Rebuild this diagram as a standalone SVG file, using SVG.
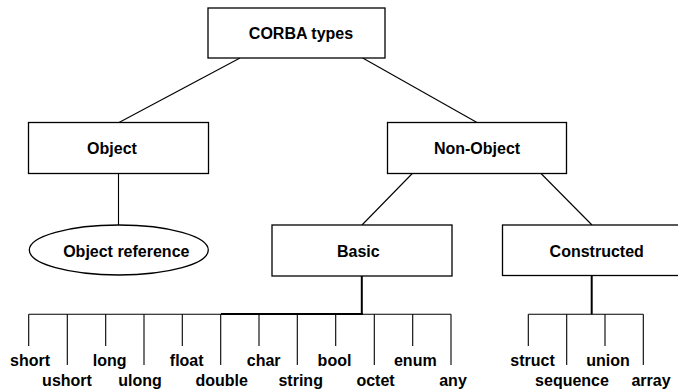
<svg xmlns="http://www.w3.org/2000/svg" width="678" height="389" viewBox="0 0 678 389">
<style>
.box{fill:#fff;stroke:#000;stroke-width:1.3}
.t{font-family:"Liberation Sans",Arial,Helvetica,sans-serif;font-weight:bold;font-size:16px;fill:#000;text-anchor:middle}
.c{stroke:#000;stroke-width:1.1;fill:none}
.k{stroke:#000;stroke-width:2;fill:none}
</style>
<rect width="678" height="389" fill="#fff"/>
<g id="connectors">
<line class="c" x1="240" y1="58" x2="119" y2="122.5"/>
<line class="c" x1="362.7" y1="58" x2="477" y2="122.5"/>
<line class="c" x1="118.5" y1="173.5" x2="118.5" y2="225"/>
<line class="c" x1="412.3" y1="173.5" x2="362" y2="225"/>
<line class="c" x1="541" y1="173.5" x2="592" y2="225"/>
<line class="k" x1="361.8" y1="276" x2="361.8" y2="314.3"/>
<line class="k" x1="591.7" y1="275.5" x2="591.7" y2="314.3"/>
<line class="c" x1="28.7" y1="314.3" x2="451" y2="314.3"/>
<line class="k" x1="221" y1="314" x2="362.8" y2="314"/>
<line class="c" x1="28.7" y1="314.3" x2="28.7" y2="346"/>
<line class="c" x1="67.3" y1="314.3" x2="67.3" y2="365"/>
<line class="c" x1="105.7" y1="314.3" x2="105.7" y2="346"/>
<line class="c" x1="144" y1="314.3" x2="144" y2="365"/>
<line class="c" x1="182.3" y1="314.3" x2="182.3" y2="346"/>
<line class="c" x1="220.7" y1="314.3" x2="220.7" y2="365"/>
<line class="c" x1="259" y1="314.3" x2="259" y2="346"/>
<line class="c" x1="297.3" y1="314.3" x2="297.3" y2="365"/>
<line class="c" x1="335.7" y1="314.3" x2="335.7" y2="346"/>
<line class="c" x1="374.3" y1="314.3" x2="374.3" y2="365"/>
<line class="c" x1="412.7" y1="314.3" x2="412.7" y2="346"/>
<line class="c" x1="451" y1="314.3" x2="451" y2="365"/>
<line class="c" x1="528.3" y1="314.3" x2="643.3" y2="314.3"/>
<line class="c" x1="528.3" y1="314.3" x2="528.3" y2="346"/>
<line class="c" x1="566.7" y1="314.3" x2="566.7" y2="365"/>
<line class="c" x1="605" y1="314.3" x2="605" y2="346"/>
<line class="c" x1="643.3" y1="314.3" x2="643.3" y2="365"/>
</g>
<g id="corba">
<rect class="box" x="208" y="8" width="177" height="50"/>
<text class="t" x="301" y="39">CORBA types</text>
</g>
<g id="object">
<rect class="box" x="28.5" y="122.5" width="180" height="51"/>
<text class="t" x="112" y="154">Object</text>
</g>
<g id="nonobject">
<rect class="box" x="387.5" y="122.5" width="179" height="51"/>
<text class="t" x="477" y="154">Non-Object</text>
</g>
<g id="objref">
<ellipse class="box" cx="118.8" cy="250" rx="89.5" ry="25"/>
<text class="t" x="126.3" y="256.5">Object reference</text>
</g>
<g id="basic">
<rect class="box" x="272" y="225" width="180" height="51"/>
<text class="t" x="358.3" y="256.5">Basic</text>
</g>
<g id="constructed">
<rect class="box" x="502.5" y="225" width="180" height="50.5"/>
<text class="t" x="596.7" y="256.5">Constructed</text>
</g>
<g id="leaves">
<text class="t" x="30" y="366">short</text>
<text class="t" x="67" y="386">ushort</text>
<text class="t" x="109.7" y="366">long</text>
<text class="t" x="140" y="386">ulong</text>
<text class="t" x="186.7" y="366">float</text>
<text class="t" x="221.7" y="386">double</text>
<text class="t" x="263.7" y="366">char</text>
<text class="t" x="300.7" y="386">string</text>
<text class="t" x="334.5" y="366">bool</text>
<text class="t" x="375.5" y="386">octet</text>
<text class="t" x="415.3" y="366">enum</text>
<text class="t" x="453" y="386">any</text>
<text class="t" x="532.5" y="366">struct</text>
<text class="t" x="572" y="386">sequence</text>
<text class="t" x="608" y="366">union</text>
<text class="t" x="651" y="386">array</text>
</g>
</svg>
